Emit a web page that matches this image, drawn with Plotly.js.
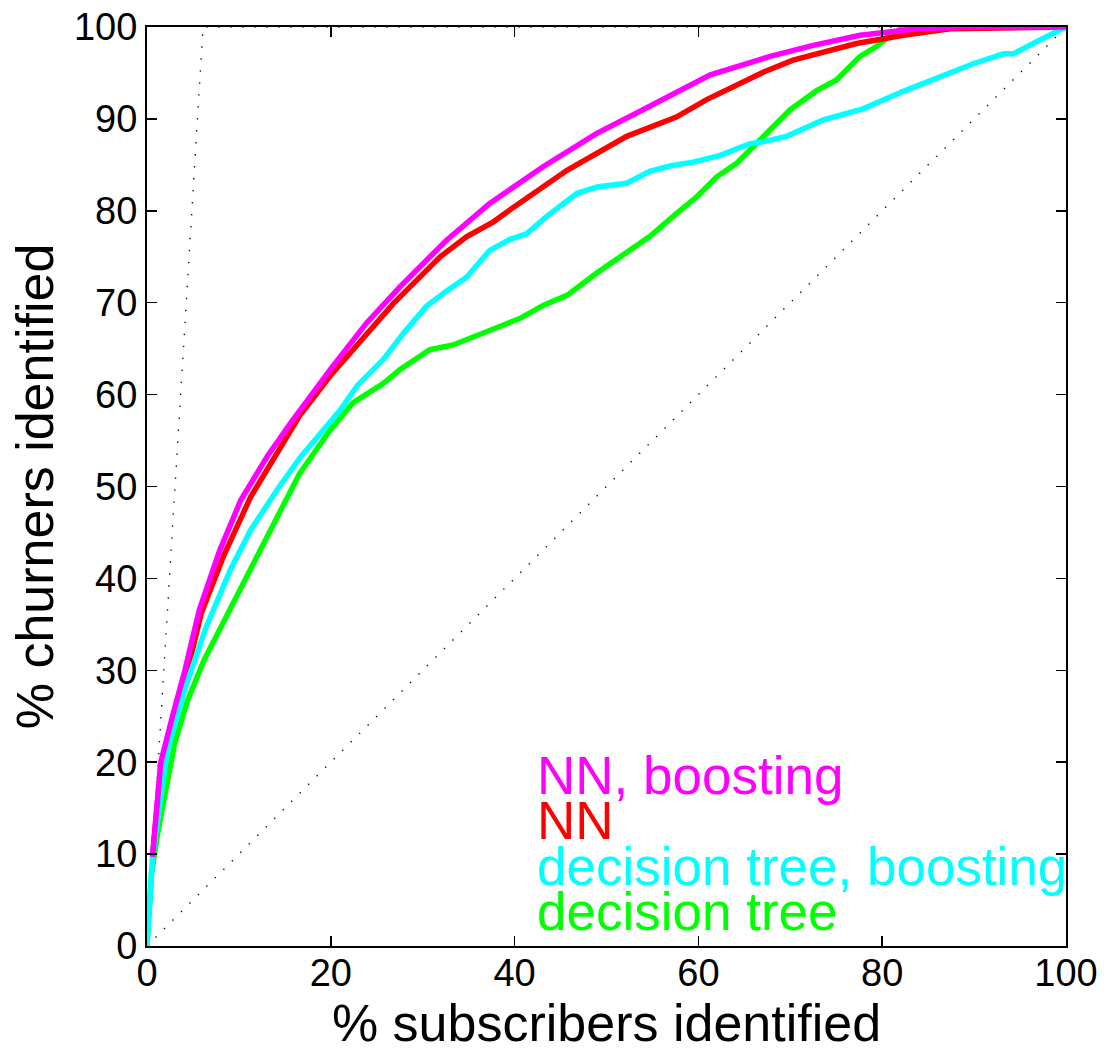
<!DOCTYPE html>
<html>
<head>
<meta charset="utf-8">
<script src="https://cdn.plot.ly/plotly-3.0.1.min.js"></script>
<style>html,body{margin:0;padding:0;background:#fff;}#chart{width:1107px;height:1055px;}</style>
</head>
<body>
<div id="chart"></div>
<script>
// ---- data ----
const seriesNames = ["NN, boosting", "NN", "decision tree, boosting", "decision tree"];

const nnBoostX = [0.6, 1.5, 2.8, 4.1, 5.7, 7.9, 10.2, 13.1, 15.7, 18.6, 20, 23.9, 27.5, 32.6, 37.3, 43.1, 48.9, 53.6, 58.4, 61.3, 67.8, 72.5, 77.6, 83.8, 90, 100];
const nnBoostY = [9.7, 20, 25.1, 29.9, 36.6, 43, 48.5, 53.3, 57, 61, 62.8, 67.8, 71.7, 76.8, 80.8, 84.8, 88.4, 90.8, 93.2, 94.8, 96.8, 98, 99.1, 99.8, 100, 100];

const nnX = [0.6, 1.5, 2.9, 4.3, 5.9, 8.4, 11.3, 14.6, 16.6, 19.9, 26.8, 31.9, 34.8, 37.7, 39.9, 45.7, 52.2, 57.6, 60.9, 67.1, 70.3, 77.2, 82.3, 87.4, 100];
const nnY = [9.7, 19.5, 24.6, 29.5, 36.2, 42.6, 48.9, 54.4, 57.7, 62, 69.9, 75, 77.2, 78.8, 80.4, 84.4, 88.1, 90.2, 92.1, 95.1, 96.4, 98.2, 99.1, 99.8, 100];

const dtBoostX = [0, 0.6, 2.2, 4.1, 6.4, 9.1, 11.3, 14.2, 16.7, 19.6, 21, 22.9, 25.7, 28, 30.4, 32.5, 34.8, 37.3, 39.5, 41.3, 43.5, 46.8, 49, 52.2, 54.7, 57, 59.4, 62.3, 63.4, 65.6, 67, 69.6, 73.6, 77.9, 82.3, 86.3, 89.9, 93.2, 94.3, 96.8, 100];
const dtBoostY = [0, 9.7, 21.2, 27.9, 34.6, 41, 45.3, 49.7, 53.2, 56.8, 58.3, 61, 63.8, 66.8, 69.6, 71.2, 72.8, 75.7, 76.9, 77.5, 79.4, 81.9, 82.6, 83, 84.3, 84.9, 85.3, 86, 86.4, 87.3, 87.5, 88.1, 89.9, 91.1, 93, 94.6, 96, 97.1, 97.1, 98.4, 100];

const dtX = [0, 0.5, 1.2, 3, 4.4, 6.2, 8.4, 10.2, 12.4, 14.9, 16.6, 18.2, 19.9, 22.4, 25.7, 27.5, 30.8, 33.3, 35.5, 37.7, 40.6, 43.1, 45.7, 48.9, 52.2, 54.7, 57.6, 59.8, 62, 64.2, 66.7, 70, 72.9, 75, 77.6, 79.4, 80.5, 82.3, 100];
const dtY = [0, 8, 12.5, 22, 26.7, 31.1, 35.4, 39, 43.3, 48.1, 51.4, 53.6, 56.1, 59.1, 61.2, 62.7, 64.9, 65.4, 66.3, 67.2, 68.3, 69.7, 70.8, 73.2, 75.4, 77.2, 79.7, 81.5, 83.7, 85.2, 87.7, 91, 93.1, 94.2, 96.8, 97.9, 98.8, 100, 100];

// reference lines: random selection and perfect selection
const randomX = [0, 100];
const randomY = [0, 100];
const perfectX = [0, 6.1, 100];
const perfectY = [0, 100, 100];

const xTicks = [0, 20, 40, 60, 80, 100];
const yTicks = [0, 10, 20, 30, 40, 50, 60, 70, 80, 90, 100];

// ---- styles ----
const FONT = "Liberation Sans, Arial, Helvetica, sans-serif";
const colors = {"NN, boosting": "#ff00ff", "NN": "#ff0000", "decision tree, boosting": "#00ffff", "decision tree": "#00ff00"};
const LW = 5.5;
const dotStyle = {color: "#111", width: 1.4, dash: "1.4px,10.6px"};

const traces = [
  {x: randomX, y: randomY, mode: "lines", line: dotStyle, hoverinfo: "skip"},
  {x: perfectX, y: perfectY, mode: "lines", line: dotStyle, hoverinfo: "skip"},
  {x: dtX, y: dtY, mode: "lines", name: seriesNames[3], line: {color: colors[seriesNames[3]], width: LW}},
  {x: nnX, y: nnY, mode: "lines", name: seriesNames[1], line: {color: colors[seriesNames[1]], width: LW}},
  {x: dtBoostX, y: dtBoostY, mode: "lines", name: seriesNames[2], line: {color: colors[seriesNames[2]], width: LW}},
  {x: nnBoostX, y: nnBoostY, mode: "lines", name: seriesNames[0], line: {color: colors[seriesNames[0]], width: LW}}
];

const labelY = [18.6, 13.7, 8.7, 3.8];
const annotations = seriesNames.map((n, i) => ({
  x: 42.2, y: labelY[i], xref: "x", yref: "y", xanchor: "left", yanchor: "middle",
  text: n, showarrow: false, font: {family: FONT, size: 53, color: colors[n]}
}));

const axisCommon = {
  range: [0, 100], showgrid: false, zeroline: false, showline: true, linecolor: "#000", linewidth: 2,
  mirror: "ticks", ticks: "inside", ticklen: 10, tickwidth: 1.5, tickcolor: "#000",
  tickfont: {family: FONT, size: 38, color: "#000"}, tickmode: "array"
};

const layout = {
  width: 1107, height: 1055,
  margin: {l: 147, r: 41, t: 27, b: 109, pad: 0},
  paper_bgcolor: "#fff", plot_bgcolor: "#fff",
  showlegend: false,
  font: {family: FONT, color: "#000"},
  xaxis: Object.assign({}, axisCommon, {tickvals: xTicks, ticktext: xTicks.map(String), ticklabelstandoff: -8,
    title: {text: "% subscribers identified", font: {family: FONT, size: 52, color: "#000"}, standoff: 6}}),
  yaxis: Object.assign({}, axisCommon, {tickvals: yTicks, ticktext: yTicks.map(String), ticklabelstandoff: 0,
    title: {text: "% churners identified", font: {family: FONT, size: 52, color: "#000"}, standoff: 4}}),
  annotations: annotations
};

Plotly.newPlot("chart", traces, layout, {staticPlot: true, displayModeBar: false});
</script>
</body>
</html>
